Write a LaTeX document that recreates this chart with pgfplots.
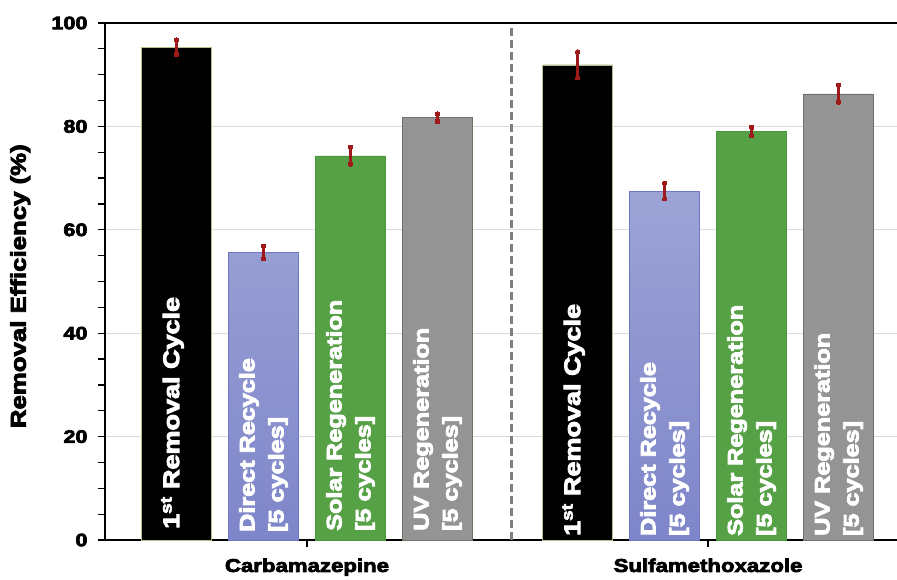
\documentclass[border=0pt]{standalone}
\usepackage{fontspec}
\setmainfont{Liberation Sans}[FakeStretch=1.2, BoldFeatures={FakeBold=4}]
\usepackage{pgfplots}
\pgfplotsset{compat=1.18}

\definecolor{blacktrim}{HTML}{B5BE86}
\definecolor{bluetop}{HTML}{9CA3D5}
\definecolor{bluebot}{HTML}{7E86CA}
\definecolor{blueedge}{HTML}{6E78C6}
\definecolor{solar}{HTML}{56A146}
\definecolor{solaredge}{HTML}{4A983B}
\definecolor{uvgrey}{HTML}{949494}
\definecolor{uvedge}{HTML}{6F7163}
\definecolor{errred}{HTML}{9E1A1A}
\definecolor{gridc}{HTML}{DCDCDC}
\definecolor{dashc}{HTML}{7F7F7F}

\pgfplotsset{
  errs/.style={
    error bars/.cd, y dir=both, y explicit,
    error bar style={line width=2.2pt, errred},
    error mark=*,
    error mark options={mark size=2.2pt, fill=errred, draw=errred, line width=0pt}
  }
}
\tikzset{
  barlab/.style={rotate=90, anchor=west, inner sep=0pt, text=white,
    align=left, font=\fontsize{21}{29}\selectfont\bfseries}
}

\begin{document}
\begin{tikzpicture}
\begin{axis}[
  at={(0,0)}, anchor=south west,
  scale only axis, width=792pt, height=517pt,
  xmin=-0.822, xmax=8.282, ymin=0, ymax=100,
  clip=false,
  axis x line*=bottom, axis y line*=left,
  axis line style={line width=1.4pt, black},
  ytick={0,20,...,100}, minor y tick num=3,
  ymajorgrids, grid style={line width=0.8pt, gridc},
  tick align=outside, major tick length=7pt, minor tick length=7pt,
  tick style={line width=1.2pt, black},
  xtick={1.5,6.11}, xticklabels={Carbamazepine, Sulfamethoxazole},
  /pgf/number format/assume math mode=true,
  yticklabel style={font=\fontsize{18}{20}\selectfont\bfseries, xshift=-7pt},
  xticklabel style={font=\fontsize{18.5}{20}\selectfont\bfseries, yshift=-8pt},
]
% 1st removal cycle
\addplot[ybar, bar width=70pt, bar shift=0pt, fill=black, draw=blacktrim,
  line width=0.6pt, errs]
  coordinates {(0,95.3) +- (0,1.4) (4.61,91.9) +- (0,2.5)};
% direct recycle
\addplot[ybar, bar width=70pt, bar shift=0pt, top color=bluetop,
  bottom color=bluebot, draw=blueedge, line width=0.6pt, errs]
  coordinates {(1,55.6) +- (0,1.2) (5.61,67.5) +- (0,1.5)};
% solar regeneration
\addplot[ybar, bar width=70pt, bar shift=0pt, fill=solar, draw=solaredge,
  line width=0.6pt, errs]
  coordinates {(2,74.3) +- (0,1.65) (6.61,79.0) +- (0,0.8)};
% UV regeneration
\addplot[ybar, bar width=70pt, bar shift=0pt, fill=uvgrey, draw=uvedge,
  line width=0.6pt, errs]
  coordinates {(3,81.7) +- (0,0.75) (7.61,86.3) +- (0,1.65)};

% separator between the two compounds and the top frame line
\draw[dashc, line width=3pt, dash pattern=on 8pt off 4pt]
  (axis cs:3.856,0) -- (axis cs:3.856,100);
\draw[line width=1.6pt] (rel axis cs:0,1) -- (rel axis cs:1,1);

% labels inside the bars
\node[barlab, font=\fontsize{22.5}{29}\selectfont\bfseries] at ([yshift=11pt, xshift=-4pt]axis cs:0,0) {1\textsuperscript{st} Removal Cycle};
\node[barlab] at ([yshift=8pt]axis cs:1,0) {Direct Recycle\\{[5 cycles]}};
\node[barlab] at ([yshift=9pt]axis cs:2,0) {Solar Regeneration\\{[5 cycles]}};
\node[barlab] at ([yshift=9pt]axis cs:3,0) {UV Regeneration\\{[5 cycles]}};
\node[barlab, font=\fontsize{22.5}{29}\selectfont\bfseries] at ([yshift=4pt, xshift=-4pt]axis cs:4.61,0) {1\textsuperscript{st} Removal Cycle};
\node[barlab] at ([yshift=4pt]axis cs:5.61,0) {Direct Recycle\\{[5 cycles]}};
\node[barlab] at ([yshift=4pt]axis cs:6.61,0) {Solar Regeneration\\{[5 cycles]}};
\node[barlab] at ([yshift=4pt]axis cs:7.61,0) {UV Regeneration\\{[5 cycles]}};

% axis title
\node[rotate=90, anchor=north, inner sep=0pt, font=\fontsize{21.5}{24}\selectfont\bfseries]
  at ([xshift=-95pt]rel axis cs:0,0.491) {Removal Efficiency (\%)};
\end{axis}
\pgfresetboundingbox
\path[use as bounding box] (-105pt,-39pt) rectangle (792pt,540pt);
\end{tikzpicture}
\end{document}
